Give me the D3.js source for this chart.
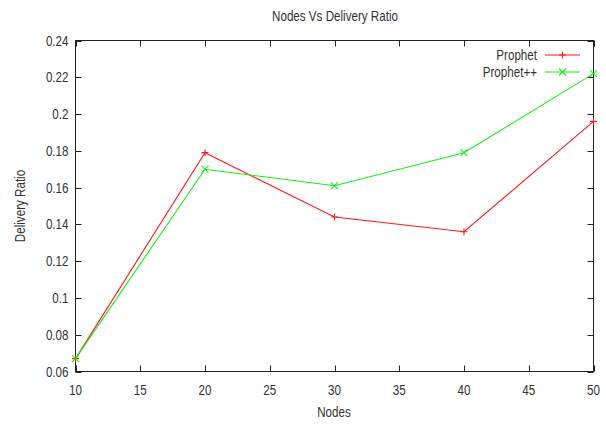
<!DOCTYPE html>
<html><head><meta charset="utf-8">
<script src="https://cdn.jsdelivr.net/npm/d3@7"></script>
<style>body{margin:0;background:#fff}text{font-family:"Liberation Sans",Arial,sans-serif;fill:#333}</style>
</head><body><svg id="c" width="606" height="425"></svg>
<script>
const nodes = [10, 20, 30, 40, 50];
const prophet = [0.067, 0.179, 0.144, 0.136, 0.196];
const prophetPP = [0.067, 0.170, 0.161, 0.179, 0.222];
const xTicks = [10, 15, 20, 25, 30, 35, 40, 45, 50];
const yTicks = [0.06, 0.08, 0.1, 0.12, 0.14, 0.16, 0.18, 0.2, 0.22, 0.24];
const seriesNames = ["Prophet", "Prophet++"];

const svg = d3.select("#c");
const L = 75.5, R = 593.5, T = 40.5, B = 371.5;
const x = d3.scaleLinear().domain([10, 50]).range([L, R]);
const y = d3.scaleLinear().domain([0.06, 0.24]).range([B, T]);
const fs = 14, sx = 0.83;

function label(px, py, str, anchor, rot) {
  return svg.append("text")
    .attr("transform", `translate(${px},${py})` + (rot ? ` rotate(${rot})` : "") + ` scale(${sx},1)`)
    .attr("text-anchor", anchor).attr("font-size", fs).text(str);
}

// ticks (inward, mirrored)
const tk = 6;
const g = svg.append("g").attr("stroke", "#222").attr("stroke-width", 1);
xTicks.forEach(v => {
  const px = Math.round(x(v)) + .5;
  g.append("line").attr("x1", px).attr("x2", px).attr("y1", B).attr("y2", B - tk);
  g.append("line").attr("x1", px).attr("x2", px).attr("y1", T).attr("y2", T + tk);
});
yTicks.forEach(v => {
  const py = Math.round(y(v)) + .5;
  g.append("line").attr("y1", py).attr("y2", py).attr("x1", L).attr("x2", L + tk);
  g.append("line").attr("y1", py).attr("y2", py).attr("x1", R).attr("x2", R - tk);
});
svg.append("rect").attr("x", L).attr("y", T).attr("width", R - L).attr("height", B - T)
  .attr("fill", "none").attr("stroke", "#222");

// tick labels
xTicks.forEach(v => label(x(v), B + 23, v, "middle"));
yTicks.forEach(v => label(L - 7, y(v) + 5, v, "end"));

// titles
label(335, 21, "Nodes Vs Delivery Ratio", "middle");
label(334, 417, "Nodes", "middle");
label(25, 206, "Delivery Ratio", "middle", -90);

// series
const line = d3.line().x((d, i) => x(nodes[i])).y(d => y(d));
const colors = ["#ff1a1a", "#1aee1a"];
const data = [prophet, prophetPP];
function marker(i, cx, cy) {
  const s = 3.5;
  const d = i === 0
    ? `M${cx - s},${cy}H${cx + s}M${cx},${cy - s}V${cy + s}`
    : `M${cx - s},${cy - s}L${cx + s},${cy + s}M${cx - s},${cy + s}L${cx + s},${cy - s}`;
  svg.append("path").attr("d", d).attr("stroke", colors[i]).attr("stroke-width", 1.1);
}
data.forEach((vals, i) => {
  svg.append("path").datum(vals).attr("d", line).attr("fill", "none").attr("stroke", colors[i]).attr("stroke-width", 1.1);
  vals.forEach((v, j) => marker(i, x(nodes[j]), y(v)));
  const ly = 55 + i * 17;
  label(537, ly + 5, seriesNames[i], "end");
  svg.append("line").attr("x1", 545).attr("x2", 580).attr("y1", ly).attr("y2", ly).attr("stroke", colors[i]).attr("stroke-width", 1.1);
  marker(i, 562.5, ly);
});
</script></body></html>
